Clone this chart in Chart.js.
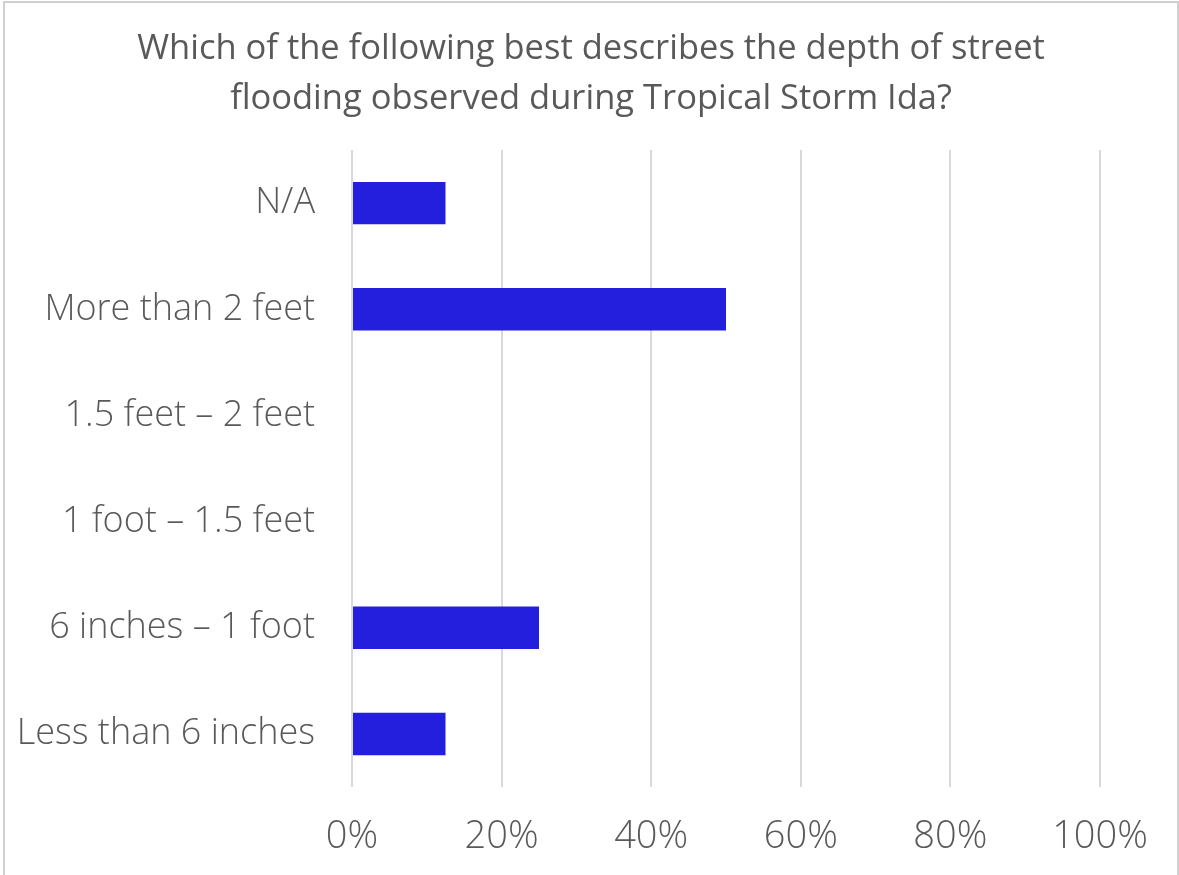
<!DOCTYPE html>
<html>
<head>
<meta charset="utf-8">
<script src="https://cdn.jsdelivr.net/npm/chart.js@4"></script>
<style>
  html, body { margin: 0; padding: 0; background: #fff; }
  #wrap { position: relative; width: 1179px; height: 875px; overflow: hidden; }
  #frame {
    position: absolute; left: 3px; top: 1px; width: 1172px; height: 900px;
    border: 2px solid #d0d0d0; pointer-events: none;
  }
  canvas { position: absolute; left: 0; top: 0; }
</style>
</head>
<body>
<div id="wrap">
  <canvas id="floodChart" width="1179" height="875"></canvas>
  <div id="frame"></div>
</div>
<script>
// Survey answers, listed top to bottom
const depthLabels = [
    "N/A",
    "More than 2 feet",
    "1.5 feet \u2013 2 feet",
    "1 foot \u2013 1.5 feet",
    "6 inches \u2013 1 foot",
    "Less than 6 inches"
];
const depthShares = [12.5, 50, 0, 0, 25, 12.5];
const percentTicks = [0, 20, 40, 60, 80, 100];

const textColor = "#595959";
const fontFamily = "'Open Sans', 'Noto Sans', sans-serif";

// title is centred on the whole frame, not on the padded area
const centreTitle = {
    id: "centreTitle",
    afterLayout(chart) {
        if (chart.titleBlock) {
            chart.titleBlock.left = 3;
            chart.titleBlock.right = 1179;
        }
    }
};

let ctx = document.getElementById("floodChart").getContext("2d");
let floodChart = new Chart(ctx, {
    type: "bar",
    data: {
        labels: depthLabels,
        datasets: [{
            data: depthShares,
            backgroundColor: "#231fdc",
            borderWidth: 0,
            barPercentage: 0.4,
            categoryPercentage: 1
        }]
    },
    options: {
        indexAxis: "y",
        responsive: false,
        animation: false,
        layout: { padding: { left: 0, right: 79, top: 0, bottom: 0 } },
        plugins: {
            legend: { display: false },
            tooltip: { enabled: false },
            title: {
                display: true,
                text: [
                    "Which of the following best describes the depth of street",
                    "flooding observed during Tropical Storm Ida?"
                ],
                color: textColor,
                font: { family: fontFamily, size: 34.5, weight: "normal", lineHeight: 1.45 },
                padding: { top: 24, bottom: 26 }
            }
        },
        scales: {
            x: {
                min: 0,
                max: 100,
                afterBuildTicks: scale => {
                    scale.ticks = percentTicks.map(v => ({ value: v }));
                },
                // fixed axis band keeps the plot bottom at 787px
                afterFit: scale => { scale.height = 88; },
                grid: { color: "#d9d9d9", lineWidth: 2, drawTicks: false },
                border: { display: false },
                ticks: {
                    color: textColor,
                    padding: 27,
                    maxRotation: 0,
                    font: { family: fontFamily, size: 38, weight: "300" },
                    callback: v => v + "%"
                }
            },
            y: {
                grid: { display: false, drawTicks: false },
                border: { display: false },
                afterFit: scale => { scale.width = 352; },
                ticks: {
                    color: textColor,
                    padding: 37,
                    font: { family: fontFamily, size: 36, weight: "300" }
                }
            }
        }
    },
    plugins: [centreTitle]
});
</script>
</body>
</html>
